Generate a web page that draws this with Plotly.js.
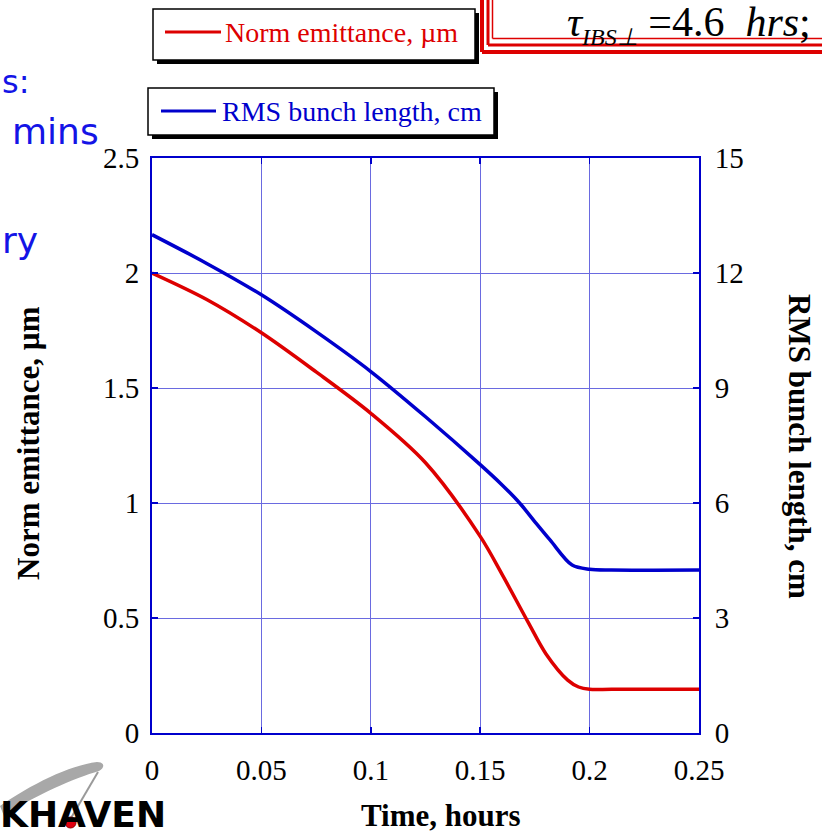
<!DOCTYPE html>
<html>
<head>
<meta charset="utf-8">
<script src="https://cdn.plot.ly/plotly-3.0.1.min.js"></script>
<style>
  html, body { margin: 0; padding: 0; background: #ffffff; }
  #chart { width: 822px; height: 835px; }
</style>
</head>
<body>
<div id="chart"></div>
<script>
// Emittance decay under cooling: time in hours
const emitTime = [0, 0.025, 0.05, 0.075, 0.1, 0.125, 0.15, 0.16, 0.172, 0.18, 0.19, 0.195, 0.2, 0.21, 0.25];
const normEmittance = [2.0, 1.885, 1.74, 1.57, 1.39, 1.175, 0.855, 0.69, 0.48, 0.345, 0.23, 0.20, 0.19, 0.19, 0.19];

// RMS bunch length (cm)
const bunchTime = [0, 0.025, 0.05, 0.075, 0.1, 0.125, 0.15, 0.16, 0.168, 0.175, 0.182, 0.192, 0.2, 0.21, 0.25];
const bunchLength = [13.0, 12.25, 11.43, 10.47, 9.43, 8.25, 7.0, 6.47, 6.0, 5.51, 5.03, 4.38, 4.27, 4.25, 4.25];

const xTicks = [0, 0.05, 0.1, 0.15, 0.2, 0.25];
const yTicks = [0, 0.5, 1, 1.5, 2, 2.5];
const y2Ticks = [0, 3, 6, 9, 12, 15];

const RED = '#dd0000';
const BLUE = '#0000cc';
const GRID = '#6a6ae0';
const SERIF = '"Liberation Serif", "Times New Roman", serif';

// plot area in page pixels
const L = 152, R = 699, T = 158, B = 733;
const px = x => (x - L) / (R - L);
const py = y => (B - y) / (B - T);

function boxWithShadow(x0, y0, x1, y1, off) {
  return [
    {type: 'rect', xref: 'paper', yref: 'paper', x0: px(x0 + off), x1: px(x1 + off), y0: py(y0 + off), y1: py(y1 + off),
     fillcolor: '#000000', line: {width: 0}, layer: 'above'},
    {type: 'rect', xref: 'paper', yref: 'paper', x0: px(x0), x1: px(x1), y0: py(y0), y1: py(y1),
     fillcolor: '#ffffff', line: {color: '#000000', width: 1.5}, layer: 'above'}
  ];
}
function seg(x0, y0, x1, y1, color, width) {
  return {type: 'line', xref: 'paper', yref: 'paper', x0: px(x0), y0: py(y0), x1: px(x1), y1: py(y1),
          line: {color: color, width: width}, layer: 'above'};
}
function pathFrom(pts) {
  let d = '';
  pts.forEach(p => {
    if (typeof p === 'string') { d += p + ' '; return; }
    d += px(p[0]).toFixed(5) + ',' + py(p[1]).toFixed(5) + ' ';
  });
  return d.trim();
}

const shapes = [];
// framed heading box (triple red border, open to the top/right)
[[482, 52, 4], [488, 45, 3], [492.5, 38.5, 1.5]].forEach(([x, y, w]) => {
  shapes.push(seg(x, -20, x, y, RED, w));
  shapes.push(seg(x, y, 900, y, RED, w));
});
// legend boxes
shapes.push(...boxWithShadow(153, 9, 475, 60, 4));
shapes.push(seg(165, 32, 221, 32, RED, 3));
shapes.push(...boxWithShadow(148, 88, 494, 135, 4));
shapes.push(seg(161, 111, 216, 111, BLUE, 3));
// logo swoosh, pointer line and dot
shapes.push({type: 'path', xref: 'paper', yref: 'paper', layer: 'above',
  path: pathFrom(['M', [0, 806], 'C', [30, 785], [70, 765], [97, 762], 'C', [105, 762], [105, 768], [99, 771],
                  'C', [75, 778], [35, 795], [4, 816], 'Z']),
  fillcolor: '#a8a8a8', line: {width: 0}});
shapes.push(seg(98, 772, 71, 818, '#9a9a9a', 2));
shapes.push({type: 'circle', xref: 'paper', yref: 'paper', layer: 'above',
  x0: px(65), x1: px(76), y0: py(817), y1: py(828), fillcolor: '#e00010', line: {color: '#900000', width: 1}});

const annotations = [
  // legend labels
  {text: 'Norm emittance, \u00b5m', x: px(223), y: py(33), xanchor: 'left', yanchor: 'middle',
   font: {family: SERIF, size: 28, color: RED}},
  {text: 'RMS bunch length, cm', x: px(220), y: py(112), xanchor: 'left', yanchor: 'middle',
   font: {family: SERIF, size: 28, color: BLUE}},
  // heading inside the red frame
  {text: '<i>\u03c4</i><sub><span style="font-size:24px"><i>IBS\u22a5</i></span></sub> =4.6&nbsp;&nbsp;<i>hrs</i>;',
   x: px(565), y: py(24), xanchor: 'left', yanchor: 'middle',
   font: {family: SERIF, size: 42, color: '#000000'}},
  // axis titles
  {text: '<b>Time, hours</b>', x: px(441), y: py(815), xanchor: 'center', yanchor: 'middle',
   font: {family: SERIF, size: 31, color: '#000000'}},
  {text: '<b>Norm emittance, \u00b5m</b>', x: px(28), y: py(443), textangle: -90, xanchor: 'center', yanchor: 'middle',
   font: {family: SERIF, size: 31, color: '#000000'}},
  {text: '<b>RMS bunch length, cm</b>', x: px(800), y: py(446), textangle: 90, xanchor: 'center', yanchor: 'middle',
   font: {family: SERIF, size: 31, color: '#000000'}},
  // slide text running in from the left
  {text: 's:', x: px(0), y: py(82), xanchor: 'left', yanchor: 'middle',
   font: {family: '"DejaVu Sans", sans-serif', size: 32, color: '#1414e6'}},
  {text: 'mins', x: px(10), y: py(131), xanchor: 'left', yanchor: 'middle',
   font: {family: '"DejaVu Sans", sans-serif', size: 36, color: '#1414e6'}},
  {text: 'ry', x: px(0), y: py(240), xanchor: 'left', yanchor: 'middle',
   font: {family: '"DejaVu Sans", sans-serif', size: 36, color: '#1414e6'}},
  // logo lettering
  {text: '<b>KHAVEN</b>', x: px(168), y: py(814), xanchor: 'right', yanchor: 'middle',
   font: {family: '"DejaVu Sans", sans-serif', size: 36, color: '#000000'}}
];
annotations.forEach(a => { a.xref = 'paper'; a.yref = 'paper'; a.showarrow = false; });

const traces = [
  {x: emitTime, y: normEmittance, type: 'scatter', mode: 'lines', name: 'Norm emittance, \u00b5m',
   line: {color: RED, width: 3.5, shape: 'spline', smoothing: 0.9}, yaxis: 'y'},
  {x: bunchTime, y: bunchLength, type: 'scatter', mode: 'lines', name: 'RMS bunch length, cm',
   line: {color: BLUE, width: 3.5, shape: 'spline', smoothing: 0.9}, yaxis: 'y2'}
];

const axisCommon = {
  showline: true, linecolor: BLUE, linewidth: 2,
  ticks: 'inside', ticklen: 6, tickcolor: BLUE, tickwidth: 1.5,
  tickfont: {family: SERIF, size: 29, color: '#000000'},
  zeroline: false, fixedrange: true
};

const layout = {
  width: 822, height: 835,
  margin: {l: L, r: 822 - R, t: T, b: 835 - B, pad: 0},
  paper_bgcolor: '#ffffff', plot_bgcolor: '#ffffff',
  showlegend: false,
  xaxis: Object.assign({}, axisCommon, {
    range: [0, 0.25], tickvals: xTicks, ticktext: xTicks.map(String),
    showgrid: true, gridcolor: GRID, gridwidth: 1, mirror: 'ticks', ticklabelstandoff: 10
  }),
  yaxis: Object.assign({}, axisCommon, {
    range: [0, 2.5], tickvals: yTicks, ticktext: yTicks.map(String),
    showgrid: true, gridcolor: GRID, gridwidth: 1, ticklabelstandoff: 5
  }),
  yaxis2: Object.assign({}, axisCommon, {
    range: [0, 15], tickvals: y2Ticks, ticktext: y2Ticks.map(String),
    overlaying: 'y', side: 'right', showgrid: false, ticklabelstandoff: 8
  }),
  shapes: shapes,
  annotations: annotations
};

Plotly.newPlot('chart', traces, layout, {staticPlot: true, displayModeBar: false});
</script>
</body>
</html>
